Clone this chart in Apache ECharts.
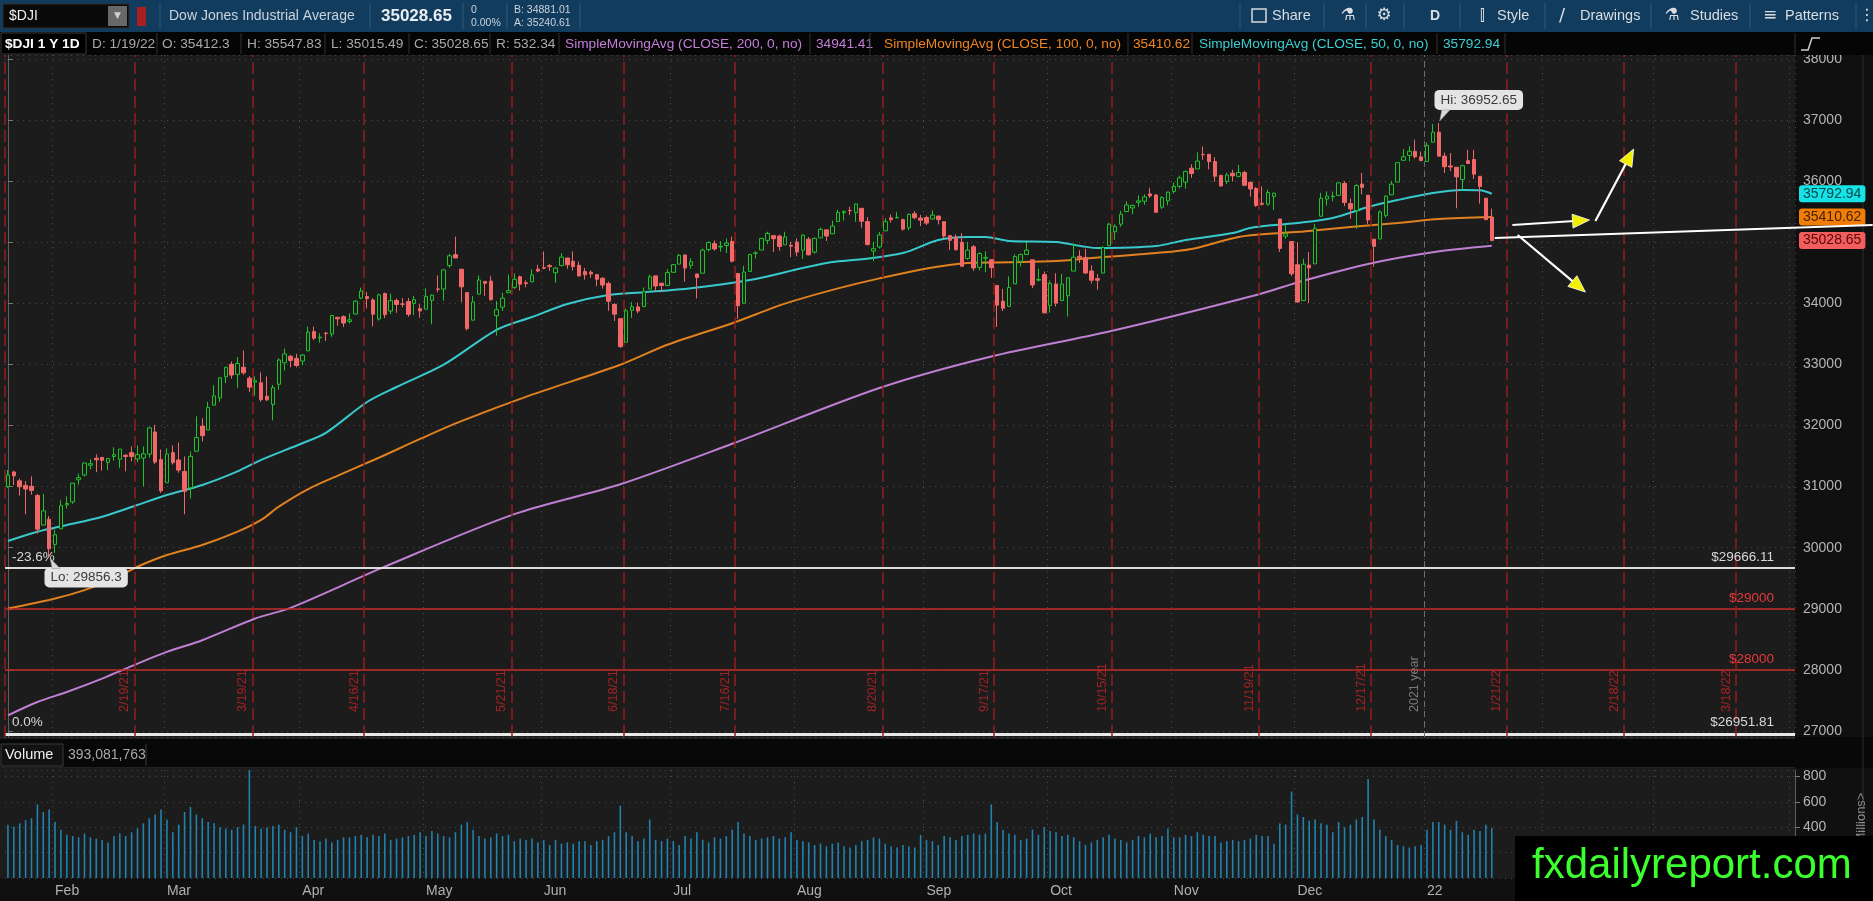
<!DOCTYPE html>
<html><head><meta charset="utf-8">
<script src="https://cdn.jsdelivr.net/npm/echarts@6/dist/echarts.min.js"></script>
<style>html,body{margin:0;padding:0;background:#0e0e0e;overflow:hidden}#c{width:1873px;height:901px}</style>
</head><body><div id="c"></div>
<script>
// ---------------- DATA ----------------
const startDate = '2021-01-20';
const slotCount = 304; // traded days + empty future area on the axis
const holidays = ['2021-02-15','2021-04-02','2021-05-31','2021-07-05','2021-09-06','2021-11-25','2021-12-24','2022-01-17','2022-02-21','2022-04-15'];
const monthNames = ['Jan','Feb','Mar','Apr','May','Jun','Jul','Aug','Sep','Oct','Nov','Dec'];

const opens = [
31000,31240,31094,31020,31005,30855,30370,30466,
30054,30310,30700,30750,31113,31190,31351,31465,31478,31398,31494,31448,31514,31555,31452,31467,31532,31894,31442,
31065,31556,31436,31249,30981,31579,31990,31926,32333,32450,32796,33002,32838,32953,32775,32709,32699,32478,32345,32675,33026,33133,33099,
33055,33222,33537,33435,33513,33498,33770,33782,33704,33825,34085,34111,34055,33743,34162,33874,34047,33990,34029,33998,33912,
33904,34049,34234,34233,34617,34796,34558,34175,33724,34150,34359,34364,33796,33937,34174,34261,34435,34337,34351,34558,
34584,34617,34500,34618,34742,34688,34621,34520,34510,34470,34411,34325,33981,33749,33363,33886,33941,33945,34234,34449,34330,34292,
34507,34642,34790,34620,34481,34493,34880,34976,34922,34946,35011,34488,34001,34522,34820,34872,35030,35107,35100,34956,34950,
35002,34870,35050,34838,35071,35202,35138,35338,35483,35521,35484,35555,35338,34856,34922,35186,35398,35399,35369,35235,35466,35395,
35404,35381,35427,35336,35108,35084,34999,34734,34926,34588,34738,34713,34292,34034,33950,34319,34686,34799,34711,34379,34470,
33966,34316,34045,34124,34528,34769,34751,34529,34404,34495,34944,35171,35295,35502,35561,35653,35671,35790,35771,35572,35676,
35833,35914,35983,36212,36199,36434,36439,36320,36094,35994,36129,36078,36141,35980,35880,35637,35623,35750,35380,35097,35011,
34631,34045,34625,34646,35425,35707,35745,35766,35963,35633,35517,35951,35770,35050,35053,35435,35776,35985,36340,36421,36487,36396,
36322,36637,36800,36409,36249,36227,36026,36333,36354,36079,35720,35412.3];

const highs = [
31272,31260,31130,31092,31168,30880,30881,30520,
30298,30777,30838,31058,31211,31386,31448,31528,31480,31466,31644,31617,31533,31658,31673,31657,31979,32010,31606,
31627,31676,31720,31494,31574,32150,32118,32389,32661,32793,32960,33047,33121,33228,32809,32805,32870,32802,32664,33098,33259,33154,33173,
33167,33617,33618,33511,33533,33810,33780,33802,33835,34051,34256,34184,34083,34161,34175,34157,34079,34087,34087,34121,33986,
34245,34146,34455,34555,34811,35091,34558,34175,34117,34455,34359,34443,34037,34171,34471,34490,34454,34376,34560,34630,
34850,34647,34589,34822,34742,34849,34683,34579,34540,34479,34423,34357,34000,33750,33913,34022,34011,34259,34470,34449,34330,34557,
34640,34808,34801,34737,34481,34898,35014,35028,35017,35060,35091,34488,34614,34810,34853,35071,35171,35107,35122,35171,35006,
35062,35130,35085,35074,35240,35202,35353,35531,35523,35580,35632,35555,35411,35009,35167,35391,35454,35496,35388,35473,35510,35447,
35436,35520,35436,35336,35108,35128,35147,35003,34954,34837,34851,34713,34292,34236,34440,34800,34815,35003,34711,34568,34521,
34372,34492,34482,34420,34975,34869,34891,34622,34476,34938,35318,35294,35512,35669,35615,35765,35785,35892,35790,35755,35825,
35975,36089,36174,36275,36471,36565,36439,36393,36094,36138,36187,36264,36167,35994,35902,35913,35860,35804,35380,35284,35011,
35000,34730,34839,35299,35808,35832,35829,35972,36000,35715,35950,36134,35770,35050,35521,35768,36004,36302,36527,36572,36679,36484,
36635,36934,36952.65,36465,36459,36227,36270,36513,36510,36081,35720,35547.83];

const lows = [
30980,31025,30852,30550,30869,30232,30370,29856.3,
29915,30310,30641,30718,31033,31166,31283,31236,31261,31269,31425,31306,31251,31414,31399,31007,31474,31369,30897,
31065,31361,31226,30547,30806,31579,31739,31926,32333,32387,32695,32766,32617,32830,32550,32487,32389,32402,32085,32587,32900,32951,32952,
32984,33222,33398,33356,33384,33450,33634,33612,33668,33825,34067,33918,33621,33719,33758,33823,33844,33934,33780,33806,33764,
33904,33658,34182,34043,34582,34737,34020,33555,33724,34150,34123,34044,33473,33875,34174,34236,34207,34263,34351,34510,
34555,34528,34337,34606,34565,34537,34446,34388,34417,34280,34242,33876,33711,33271,33363,33762,33838,33945,34234,34194,34182,34292,
34507,34642,34354,34564,34079,34493,34849,34863,34844,34823,34669,33742,33998,34522,34733,34872,34968,34838,34860,34956,34755,
34768,34725,34785,34812,35071,35020,35138,35338,35357,35444,35335,35237,34950,34690,34897,35186,35321,35391,35190,35198,35375,35265,
35280,35370,35290,35063,34874,34860,34597,34712,34531,34538,34508,34415,33613,33874,33950,34319,34603,34799,34249,34358,33835,
33846,33949,34045,33785,34528,34663,34478,34324,34225,34495,34944,35037,35253,35502,35458,35581,35612,35727,35482,35544,35605,
35796,35881,35877,36054,36199,36348,36191,35989,35906,35949,35994,36063,35921,35746,35580,35602,35598,35528,34840,35054,34445,
34009,34045,34006,34646,35425,35600,35672,35766,35590,35384,35220,35785,35300,34600,35053,35404,35776,35985,36340,36325,36371,36325,
36322,36637,36407,36133,36163,35555,35848,36283,36036,35631,35361,35015.49];

const closes = [
31188,31176,30997,30960,30937,30303,30603,29983,
30212,30688,30724,31056,31148,31386,31375,31438,31431,31458,31523,31613,31494,31494,31522,31537,31962,31402,30932,
31535,31392,31270,30924,31496,31802,31833,32297,32485,32779,32953,32826,33015,32862,32628,32732,32423,32420,32619,33072,33171,33066,32982,
33153,33527,33430,33446,33504,33801,33746,33677,33730,34035,34200,34078,33821,34137,33815,34043,33981,33985,33820,34060,33875,
34113,34133,34230,34548,34778,34743,34270,33587,34021,34382,34327,34060,33896,34084,34208,34394,34313,34323,34465,34529,
34575,34600,34577,34756,34630,34600,34447,34467,34480,34394,34299,34033,33823,33290,33877,33945,33874,34196,34433,34283,34292,34503,
34633,34786,34577,34681,34422,34870,34996,34889,34933,34987,34688,33962,34512,34798,34823,35062,35144,35058,34930,35085,34935,
34838,35116,34793,35064,35209,35102,35264,35485,35500,35516,35626,35343,34961,34894,35120,35336,35367,35406,35214,35456,35400,35361,
35313,35444,35369,35100,35031,34879,34607,34870,34578,34814,34751,34584,33970,33919,34258,34765,34798,34870,34300,34390,33844,
34326,34003,34315,34417,34755,34746,34496,34378,34377,34912,35295,35259,35458,35609,35603,35677,35741,35756,35490,35731,35820,
35913,36053,36158,36124,36328,36432,36320,36080,35921,36100,36087,36142,35931,35871,35602,35620,35814,35804,34899,35136,34484,
34022,34640,34580,35227,35719,35754,35755,35971,35650,35545,35927,35898,35365,34932,35493,35754,35951,36302,36398,36488,36398,36338,
36585,36800,36408,36236,36232,36069,36252,36290,36114,35912,35369,35028.65];

// volume, millions of shares
const volumes = [
420,405,430,455,470,580,520,540,
440,380,340,330,320,350,320,310,300,280,330,350,330,360,390,430,470,500,540,
460,360,420,520,560,500,470,440,430,400,390,380,400,420,850,410,390,400,410,420,380,360,400,
330,350,300,290,310,280,300,320,320,330,340,320,340,330,350,300,310,320,330,340,360,
330,370,350,330,320,360,420,440,380,330,310,320,350,330,340,290,310,300,310,280,
300,260,300,270,280,270,290,290,260,290,300,330,360,570,360,330,290,310,460,300,290,310,
290,260,330,310,360,300,280,320,310,330,380,440,350,330,300,310,320,330,310,320,360,
300,290,280,260,270,250,270,280,250,240,260,290,300,320,310,270,250,240,260,250,240,340,
300,290,260,330,320,300,330,340,350,340,350,580,440,380,350,340,300,310,380,340,400,
370,360,330,340,320,290,260,280,300,320,340,310,300,280,300,330,320,350,320,330,390,
320,320,340,330,360,340,330,330,280,290,300,290,300,310,340,330,330,270,430,420,680,
500,480,450,460,430,420,360,440,400,420,460,480,780,460,380,330,300,260,250,240,250,260,
380,440,440,420,380,450,360,340,380,370,420,393];

// moving averages: [bar index, value]
const sma50 = [[0,30110],[5,30262],[10,30372],[16,30508],[22,30700],[27,30863],[33,31027],[39,31250],[43,31437],[50,31710],[54,31880],[61,32385],[66,32630],[74,32995],[83,33565],[89,33776],[95,33990],[102,34136],[108,34180],[116,34245],[126,34380],[135,34578],[140,34676],[145,34720],[152,34823],[158,35036],[163,35085],[166,35085],[170,35020],[178,35003],[185,34905],[195,34937],[200,35036],[208,35150],[211,35232],[215,35281],[219,35314],[225,35396],[231,35576],[236,35690],[242,35805],[247,35854],[250,35850],[252,35792.94]];
const sma100 = [[0,29005],[8,29169],[13,29306],[18,29497],[22,29689],[27,29880],[33,30044],[39,30262],[43,30454],[46,30672],[51,30960],[57,31220],[63,31473],[70,31780],[77,32071],[89,32505],[104,32995],[112,33321],[123,33674],[133,34027],[148,34408],[162,34652],[170,34670],[178,34692],[184,34741],[195,34823],[201,34889],[209,35085],[216,35150],[220,35175],[228,35249],[236,35314],[243,35380],[252,35410.62]];
const sma200 = [[0,27257],[5,27475],[10,27639],[16,27858],[20,28022],[27,28295],[33,28486],[42,28842],[48,29016],[64,29690],[86,30549],[104,31038],[123,31701],[148,32614],[167,33130],[187,33538],[212,34136],[220,34370],[231,34645],[242,34836],[252,34941.41]];

const expirations = ['2021-02-19','2021-03-19','2021-04-16','2021-05-21','2021-06-18','2021-07-16','2021-08-20','2021-09-17','2021-10-15','2021-11-19','2021-12-17','2022-01-21','2022-02-18','2022-03-18'];
const expLabels = ['2/19/21','3/19/21','4/16/21','5/21/21','6/18/21','7/16/21','8/20/21','9/17/21','10/15/21','11/19/21','12/17/21','1/21/22','2/18/22','3/18/22'];
const fibHigh = 29666.11, fibLow = 26951.81, redLevels = [29000, 28000];
const hiPoint = ['2022-01-05', 36952.65], loPoint = ['2021-01-29', 29856.3];
const lastTags = {sma50: 35792.94, sma100: 35410.62, close: 35028.65};
// drawn trend line and arrows: [x1 (bar index), y1, x2, y2, arrowhead]
const drawings = [
  [252.5, 35069, 316.7, 35282, 0],
  [255.5, 35282, 268.6, 35363, 1],
  [269.6, 35347, 276.1, 36525, 1],
  [256.4, 35118, 267.9, 34185, 1]
];

// ---------------- BUILD ----------------
function tradingDays(start, count, hol){
  const out=[]; const d=new Date(start+'T00:00:00Z');
  while(out.length<count){
    const w=d.getUTCDay(), s=d.toISOString().slice(0,10);
    if(w!==0&&w!==6&&hol.indexOf(s)<0) out.push(s);
    d.setUTCDate(d.getUTCDate()+1);
  }
  return out;
}
const cats = tradingDays(startDate, slotCount, holidays);
const monthStart = cats.map((c,i)=> i>0 && c.slice(0,7)!==cats[i-1].slice(0,7));
const monthLabel = v => { const m=+v.slice(5,7); return m===1 ? v.slice(2,4) : monthNames[m-1]; };
const candles = closes.map((c,i)=>[opens[i], c, lows[i], highs[i]]);
const callouts = [[cats.indexOf(hiPoint[0]), hiPoint[1], 1], [cats.indexOf(loPoint[0]), loPoint[1], -1]];

const FONT = "'Liberation Sans',Arial,sans-serif";
const SYM = "'DejaVu Sans',sans-serif";
const GRID_L=5, GRID_R=78, PRICE_TOP=55, PRICE_BOT=737, VOL_TOP=770, VOL_BOT=878, W=1873, H=901;
const Y_MIN=26902, Y_MAX=38064;
const dotted = {color:'#4b4b4b', type:[1,5], width:1};

function txt(x,y,text,fill,size,opt){
  opt=opt||{};
  return {type:'text', x:x, y:y, z:opt.z||101, rotation:opt.rot||0,
    style:{text:text, fill:fill, font:(opt.bold?'bold ':'')+size+'px '+(opt.font||FONT),
      textAlign:opt.align||'left', align:opt.align||'left', textVerticalAlign:'middle', verticalAlign:'middle'}};
}
function rect(x,y,w,h,fill,opt){
  opt=opt||{};
  return {type:'rect', z:opt.z!==undefined?opt.z:100, shape:{x:x,y:y,width:w,height:h,r:opt.r||0},
    style:{fill:fill, stroke:opt.stroke||null, lineWidth:opt.lw||1}};
}
function vline(x,y1,y2,color,z){return {type:'line', z:z||101, shape:{x1:x,y1:y1,x2:x,y2:y2}, style:{stroke:color,lineWidth:1}};}

const HS = 13.7; // header font size
const ui = [
  // pane backgrounds
  rect(0,PRICE_TOP,W-GRID_R,PRICE_BOT-PRICE_TOP,'#1c1c1c',{z:-10}),
  rect(0,VOL_TOP-2,W-GRID_R,VOL_BOT-VOL_TOP+2,'#1c1c1c',{z:-10}),
  rect(0,PRICE_BOT,W,VOL_TOP-2-PRICE_BOT,'#080808',{z:-9}),
  {type:'line', z:-8, shape:{x1:0,y1:PRICE_BOT+1,x2:W-GRID_R,y2:PRICE_BOT+1}, style:{stroke:'#3a3a3a',lineWidth:1}},
  {type:'line', z:-8, shape:{x1:0,y1:VOL_TOP-3,x2:W-GRID_R,y2:VOL_TOP-3}, style:{stroke:'#3a3a3a',lineWidth:1}},
  vline(1863,PRICE_TOP,VOL_BOT,'#2e2e2e',-8),
  // toolbar
  rect(0,0,W,32,'#123c5e'),
  rect(3,4,126,24,'#0a0a0a',{stroke:'#2f2f2f'}),
  txt(9,16,'$DJI','#f0f0f0',14),
  rect(108,6,19,20,'#686868'),
  txt(117.5,16,'\u25BC','#d0d0d0',9,{align:'center',font:SYM}),
  rect(137,7,9,19,'#a8201f'),
  vline(160,3,29,'#2d5a7c'),
  txt(169,16,'Dow Jones Industrial Average','#c9d3dc',14),
  vline(370,3,29,'#2d5a7c'),
  txt(381,16,'35028.65','#e8eef2',17,{bold:true}),
  vline(463,3,29,'#2d5a7c'),
  txt(471,10,'0','#c9d3dc',10.5), txt(471,23,'0.00%','#c9d3dc',10.5),
  vline(507,3,29,'#2d5a7c'),
  txt(514,10,'B: 34881.01','#c9d3dc',10.5), txt(514,23,'A: 35240.61','#c9d3dc',10.5),
  vline(580,3,29,'#2d5a7c'),
  vline(1240,3,29,'#2d5a7c'),
  rect(1252,9,14,13,null,{stroke:'#d8d8d8',lw:1.5}),
  txt(1272,16,'Share','#d8dde2',14.5),
  vline(1324,3,29,'#2d5a7c'),
  txt(1348,16,'\u2697','#d8dde2',17,{align:'center',font:SYM}),
  vline(1366,3,29,'#2d5a7c'),
  txt(1384,16,'\u2699','#d8dde2',17,{align:'center',font:SYM}),
  vline(1404,3,29,'#2d5a7c'),
  txt(1435,16,'D','#d8dde2',14,{align:'center',bold:true}),
  vline(1460,3,29,'#2d5a7c'),
  txt(1482,16,'\u2AFF','#d8dde2',15,{align:'center',font:SYM}),
  txt(1497,16,'Style','#d8dde2',14.5),
  vline(1545,3,29,'#2d5a7c'),
  txt(1562,16,'/','#d8dde2',18,{align:'center',font:SYM}),
  txt(1580,16,'Drawings','#d8dde2',14.5),
  vline(1651,3,29,'#2d5a7c'),
  txt(1672,16,'\u2697','#d8dde2',17,{align:'center',font:SYM}),
  txt(1690,16,'Studies','#d8dde2',14.5),
  vline(1750,3,29,'#2d5a7c'),
  txt(1770,16,'\u2261','#d8dde2',17,{align:'center',font:SYM}),
  txt(1785,16,'Patterns','#d8dde2',14.5),
  vline(1856,3,29,'#2d5a7c'),
  txt(1867,16,'\u22EE','#d8dde2',16,{align:'center',font:SYM}),
  // study header row
  rect(0,32,W,23,'#050505'),
  rect(1,33,85,21,'#000000',{stroke:'#3a3a3a'}),
  txt(5,44,'$DJI 1 Y 1D','#ffffff',HS,{bold:true}),
  txt(92,44,'D: 1/19/22','#a9a9a9',HS), vline(157,33,54,'#333'),
  txt(162,44,'O: 35412.3','#a9a9a9',HS), vline(241,33,54,'#333'),
  txt(247,44,'H: 35547.83','#a9a9a9',HS), vline(325,33,54,'#333'),
  txt(331,44,'L: 35015.49','#a9a9a9',HS), vline(409,33,54,'#333'),
  txt(414,44,'C: 35028.65','#a9a9a9',HS), vline(490,33,54,'#333'),
  txt(496,44,'R: 532.34','#a9a9a9',HS), vline(559,33,54,'#333'),
  txt(565,44,'SimpleMovingAvg (CLOSE, 200, 0, no)','#c47ed8',HS), vline(810,33,54,'#333'),
  txt(816,44,'34941.41','#c47ed8',HS), vline(870,33,54,'#333'),
  txt(884,44,'SimpleMovingAvg (CLOSE, 100, 0, no)','#ee8422',HS), vline(1128,33,54,'#333'),
  txt(1133,44,'35410.62','#ee8422',HS), vline(1192,33,54,'#333'),
  txt(1199,44,'SimpleMovingAvg (CLOSE, 50, 0, no)','#3ccfd2',HS), vline(1437,33,54,'#333'),
  txt(1443,44,'35792.94','#3ccfd2',HS), vline(1505,33,54,'#333'),
  vline(1795,33,54,'#333'),
  {type:'polyline', z:101, shape:{points:[[1801,50],[1808,50],[1812,38],[1820,38]]}, style:{stroke:'#cfcfcf',lineWidth:1.5,fill:null}},
  // volume header
  rect(0,743,W-GRID_R,24,'#070707'),
  rect(1,744,62,22,'#121212',{stroke:'#3c3c3c'}),
  txt(5,755,'Volume','#f2f2f2',14.5),
  txt(68,755,'393,081,763','#a9a9a9',14),
  vline(146,744,766,'#3c3c3c'),
  // units label
  txt(1861,818,'Millions>','#8a8a8a',13,{rot:Math.PI/2,align:'center'}),
  // watermark
  rect(1515,836,W-1515,H-836,'#000000',{z:200}),
  txt(1532,866,'fxdailyreport.com','#3cff2e',42,{z:201})
];

const vMarks = [{xAxis:-0.5, label:{show:false}}];
expirations.forEach((d,k)=>{ const i=cats.indexOf(d); if(i>=0) vMarks.push({xAxis:i+0.5, label:{formatter:expLabels[k]}}); });
vMarks.push({xAxis: cats.indexOf('2021-12-31')+0.5,
  lineStyle:{color:'#6c6c6c', type:[6,4], width:1},
  label:{formatter:'2021 year', color:'#7a7a7a'}});

function tag(val, bg, fg){
  return {yAxis:val, lineStyle:{color:'rgba(0,0,0,0)', width:1},
    label:{show:true, position:'end', distance:4, formatter:val.toFixed(2), backgroundColor:bg, color:fg,
      padding:[2,4,1,4], borderRadius:3, fontSize:14, fontFamily:FONT}};
}

const option = {
  animation:false,
  backgroundColor:'#101010',
  textStyle:{fontFamily:FONT},
  grid:[
    {left:GRID_L, right:GRID_R, top:PRICE_TOP, bottom:H-PRICE_BOT},
    {left:GRID_L, right:GRID_R, top:VOL_TOP, bottom:H-VOL_BOT}
  ],
  xAxis:[
    {type:'category', gridIndex:0, data:cats, boundaryGap:true,
     axisLine:{show:false}, axisTick:{show:false}, axisLabel:{show:false},
     splitLine:{show:true, interval:(i)=>monthStart[i], lineStyle:dotted}},
    {type:'value', gridIndex:0, min:-0.5, max:cats.length-0.5, show:false},
    {type:'category', gridIndex:1, data:cats, boundaryGap:true,
     axisLine:{show:false}, axisTick:{show:false},
     axisLabel:{show:true, interval:(i)=>monthStart[i], formatter:monthLabel, color:'#b0b0b0', fontSize:14, align:'left', margin:6, fontFamily:FONT},
     splitLine:{show:true, interval:(i)=>monthStart[i], lineStyle:dotted}}
  ],
  yAxis:[
    {type:'value', gridIndex:0, position:'right', min:Y_MIN, max:Y_MAX, splitNumber:11,
     axisLine:{show:true, lineStyle:{color:'#5e5e5e'}},
     axisTick:{show:true, length:5, lineStyle:{color:'#7a7a7a'}},
     axisLabel:{color:'#b4b4b4', fontSize:14, margin:8, showMinLabel:false, showMaxLabel:false, formatter:v=>String(v), fontFamily:FONT},
     splitLine:{show:true, lineStyle:dotted}},
    {type:'value', gridIndex:1, position:'right', min:0, max:850, interval:200,
     axisLine:{show:true, lineStyle:{color:'#5e5e5e'}},
     axisTick:{show:true, length:5, lineStyle:{color:'#7a7a7a'}},
     axisLabel:{color:'#b4b4b4', fontSize:14, margin:8, showMaxLabel:false, showMinLabel:false, fontFamily:FONT},
     splitLine:{show:true, lineStyle:dotted}}
  ],
  graphic:{elements:ui},
  series:[
    {type:'candlestick', name:'$DJI', xAxisIndex:0, yAxisIndex:0, data:candles, barWidth:4, z:5,
     itemStyle:{color:'#1c1c1c', color0:'#f26767', borderColor:'#1ec42a', borderColor0:'#f26767', borderWidth:1},
     markLine:{silent:true, symbol:['none','none'], animation:false,
       data:[
         {yAxis:fibHigh, lineStyle:{color:'#e8e8e8', width:1.6, type:'solid'}, label:{show:true, position:'insideStartTop', distance:[7,4], formatter:'-23.6%', color:'#d8d8d8', fontSize:13.5}},
         {yAxis:fibHigh, lineStyle:{color:'#e8e8e8', width:1.6, type:'solid'}, label:{show:true, position:'insideEndTop', distance:[21,4], formatter:'$'+fibHigh.toFixed(2), color:'#d8d8d8', fontSize:13.5}},
         {yAxis:redLevels[0], lineStyle:{color:'#c42a2a', width:1.6, type:'solid'}, label:{show:true, position:'insideEndTop', distance:[21,4], formatter:'$'+redLevels[0], color:'#e23a3a', fontSize:13.5}},
         {yAxis:redLevels[1], lineStyle:{color:'#c42a2a', width:1.6, type:'solid'}, label:{show:true, position:'insideEndTop', distance:[21,4], formatter:'$'+redLevels[1], color:'#e23a3a', fontSize:13.5}},
         {yAxis:fibLow, lineStyle:{color:'#e8e8e8', width:3, type:'solid'}, label:{show:true, position:'insideStartTop', distance:[7,5], formatter:'0.0%', color:'#d8d8d8', fontSize:13.5}},
         {yAxis:fibLow, lineStyle:{color:'#e8e8e8', width:3, type:'solid'}, label:{show:true, position:'insideEndTop', distance:[21,5], formatter:'$'+fibLow.toFixed(2), color:'#d8d8d8', fontSize:13.5}},
         tag(lastTags.close,'#f25e5e','#5a0505')
       ]},
     markPoint:{symbol:'circle', symbolSize:1, silent:true, itemStyle:{color:'rgba(0,0,0,0)'},
       label:{show:true, position:'inside', backgroundColor:'#e4e4e4', color:'#3a3a3a', padding:[3,6], borderRadius:5, fontSize:13.5, fontFamily:FONT},
       data:[
         {coord:hiPoint, label:{formatter:'Hi: '+hiPoint[1], offset:[40,-23]}},
         {coord:loPoint, label:{formatter:'Lo: '+loPoint[1], offset:[37,21]}}
       ]}
    },
    {type:'custom', name:'callouts', xAxisIndex:0, yAxisIndex:0, data:callouts, clip:false, z:6, silent:true,
     encode:{x:0, y:1},
     renderItem:function(params, api){
       const p=api.coord([api.value(0), api.value(1)]); const d=api.value(2);
       const pts = d>0 ? [[p[0]+1,p[1]-2],[p[0]+3,p[1]-13],[p[0]+11,p[1]-13]]
                       : [[p[0]+1,p[1]+2],[p[0]+3,p[1]+12],[p[0]+11,p[1]+12]];
       return {type:'polygon', shape:{points:pts}, style:{fill:'#d9d9d9', stroke:'#9a9a9a', lineWidth:0.6}};
     }},
    {type:'line', name:'SMA200', xAxisIndex:1, yAxisIndex:0, data:sma200, showSymbol:false, smooth:0.3, z:3,
     lineStyle:{color:'#bf7fd3', width:2},
     markLine:{silent:true, symbol:['none','none'], animation:false,
       lineStyle:{color:'#951c1c', type:[12,5], width:1.5},
       label:{show:true, position:'insideStartTop', distance:[25,3], color:'#a52222', fontSize:12.5, fontFamily:FONT},
       data:vMarks}},
    {type:'line', name:'SMA100', xAxisIndex:1, yAxisIndex:0, data:sma100, showSymbol:false, smooth:0.3, z:3,
     lineStyle:{color:'#e1801f', width:2},
     markLine:{silent:true, symbol:['none','none'], animation:false, data:[tag(lastTags.sma100,'#f07d06','#4a2200')]}},
    {type:'line', name:'SMA50', xAxisIndex:1, yAxisIndex:0, data:sma50, showSymbol:false, smooth:0.3, z:3,
     lineStyle:{color:'#38c9cd', width:2},
     markLine:{silent:true, symbol:['none','none'], animation:false, data:[tag(lastTags.sma50,'#16e3e6','#04474a')]}},
    {type:'custom', name:'drawings', xAxisIndex:1, yAxisIndex:0, data:drawings, clip:false, z:20, silent:true,
     encode:{x:[0,2], y:[1,3]},
     renderItem:function(params, api){
       const p1=api.coord([api.value(0),api.value(1)]);
       const p2=api.coord([api.value(2),api.value(3)]);
       const children=[]; let end=p2;
       if(api.value(4)){
         const dx=p2[0]-p1[0], dy=p2[1]-p1[1], L=Math.hypot(dx,dy), ux=dx/L, uy=dy/L, hl=17, hw=7;
         const bx=p2[0]-ux*hl, by=p2[1]-uy*hl;
         children.push({type:'polygon', shape:{points:[[p2[0],p2[1]],[bx-uy*hw,by+ux*hw],[bx+uy*hw,by-ux*hw]]},
           style:{fill:'#f2f000', stroke:'#ffffff', lineWidth:0.8}});
         end=[bx+ux*2,by+uy*2];
       }
       children.unshift({type:'line', shape:{x1:p1[0],y1:p1[1],x2:end[0],y2:end[1]}, style:{stroke:'#ffffff', lineWidth:2.2}});
       return {type:'group', children:children};
     }},
    {type:'bar', name:'Volume', xAxisIndex:2, yAxisIndex:1, data:volumes, barWidth:1.6,
     itemStyle:{color:'#2182ad'}}
  ]
};

const chart = echarts.init(document.getElementById('c'), null, {renderer:'canvas', width:W, height:H});
chart.setOption(option);
</script>
</body></html>
